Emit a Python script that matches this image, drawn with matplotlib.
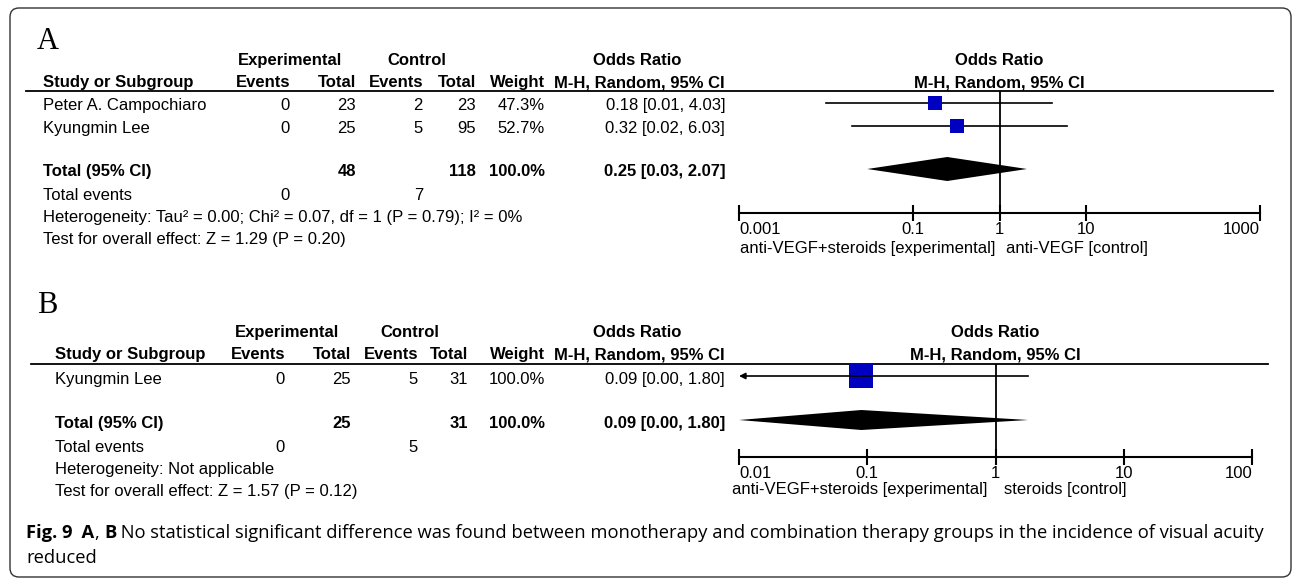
import numpy as np
import matplotlib.pyplot as plt
from matplotlib.patches import FancyBboxPatch

plt.rcParams['font.family'] = ['Liberation Sans', 'DejaVu Sans']

# ---- panel A: anti-VEGF+steroids vs anti-VEGF
a_study = ["Peter A. Campochiaro", "Kyungmin Lee"]
a_exp_events = [0, 0]
a_exp_total = [23, 25]
a_ctl_events = [2, 5]
a_ctl_total = [23, 95]
a_weight = [47.3, 52.7]
a_or = [0.18, 0.32]
a_lo = [0.01, 0.02]
a_hi = [4.03, 6.03]
a_pooled = [0.25, 0.03, 2.07]
a_tot_n = [48, 118]
a_tot_events = [0, 7]
a_het = "Heterogeneity: Tau\u00b2 = 0.00; Chi\u00b2 = 0.07, df = 1 (P = 0.79); I\u00b2 = 0%"
a_test = "Test for overall effect: Z = 1.29 (P = 0.20)"
a_ticks = [0.001, 0.1, 1, 10, 1000]
a_tick_labels = ["0.001", "0.1", "1", "10", "1000"]
a_favours = ["anti-VEGF+steroids [experimental]", "anti-VEGF [control]"]

# ---- panel B: anti-VEGF+steroids vs steroids
b_study = ["Kyungmin Lee"]
b_exp_events = [0]
b_exp_total = [25]
b_ctl_events = [5]
b_ctl_total = [31]
b_weight = [100.0]
b_or = [0.09]
b_lo = [0.00]
b_hi = [1.80]
b_pooled = [0.09, 0.00, 1.80]
b_tot_n = [25, 31]
b_tot_events = [0, 5]
b_het = "Heterogeneity: Not applicable"
b_test = "Test for overall effect: Z = 1.57 (P = 0.12)"
b_ticks = [0.01, 0.1, 1, 10, 100]
b_tick_labels = ["0.01", "0.1", "1", "10", "100"]
b_favours = ["anti-VEGF+steroids [experimental]", "steroids [control]"]

caption = ("No statistical significant difference was found between monotherapy and "
           "combination therapy groups in the incidence of visual acuity")
caption2 = "reduced"

W, H = 1292, 578
fig = plt.figure(figsize=(W / 100, H / 100), dpi=100)
ax = fig.add_axes([0, 0, 1, 1])
ax.set_xlim(0, W)
ax.set_ylim(H, 0)
ax.axis('off')

ax.add_patch(FancyBboxPatch((10, 8), 1281, 569, boxstyle="round,pad=0,rounding_size=9",
                            fc='none', ec='#333333', lw=1.0))

FS = 12
BLUE = '#0000c0'
VA = 'center_baseline'


def txt(x, y, s, ha='left', bold=False):
    # small lift so the baseline sits like the RevMan rows
    ax.text(x, y - 2, s, fontsize=FS, ha=ha, va=VA, weight='bold' if bold else 'normal')


def draw_panel(letter, L, study, ev_e, tot_e, ev_c, tot_c, weight, orr, lo, hi,
               pooled, tot_n, tot_ev, het, test, ticks, tick_labels, favours):
    ax.text(37, L['letter'], letter, family=['Liberation Serif', 'DejaVu Serif'],
            fontsize=22, va=VA, ha='left')
    cx = L['cols']
    # headers
    txt(L['exp_c'], L['h1'], "Experimental", 'center', True)
    txt(L['ctl_c'], L['h1'], "Control", 'center', True)
    txt(637, L['h1'], "Odds Ratio", 'center', True)
    txt(L['fc'], L['h1'], "Odds Ratio", 'center', True)
    txt(L['sx'], L['h2'], "Study or Subgroup", 'left', True)
    for x, s in zip(cx, ["Events", "Total", "Events", "Total", "Weight", "M-H, Random, 95% CI"]):
        txt(x, L['h2'], s, 'right', True)
    txt(L['fc'], L['h2'], "M-H, Random, 95% CI", 'center', True)
    ax.plot([L['lx0'], L['lx1']], [L['line'], L['line']], color='black', lw=1.3)

    # study rows
    for i, name in enumerate(study):
        y = L['rows'][i]
        vals = [str(ev_e[i]), str(tot_e[i]), str(ev_c[i]), str(tot_c[i]),
                f"{weight[i]:.1f}%", f"{orr[i]:.2f} [{lo[i]:.2f}, {hi[i]:.2f}]"]
        txt(L['sx'], y, name)
        for x, s in zip(cx, vals):
            txt(x, y, s, 'right')

    y = L['total']
    txt(L['sx'], y, "Total (95% CI)", 'left', True)
    tvals = [str(tot_n[0]), str(tot_n[1]), f"{sum(weight):.1f}%",
             f"{pooled[0]:.2f} [{pooled[1]:.2f}, {pooled[2]:.2f}]"]
    for x, s in zip([cx[1], cx[3], cx[4], cx[5]], tvals):
        txt(x, y, s, 'right', True)
    y = L['events']
    txt(L['sx'], y, "Total events")
    txt(cx[0], y, str(tot_ev[0]), 'right')
    txt(cx[2], y, str(tot_ev[1]), 'right')
    txt(L['sx'], L['het'], het)
    txt(L['sx'], L['test'], test)

    # forest plot
    fx0, fx1 = L['fx']
    fa = fig.add_axes([fx0 / W, 1 - L['axis'] / H, (fx1 - fx0) / W, (L['axis'] - L['line']) / H])
    fa.set_xscale('log')
    fa.set_xlim(ticks[0], ticks[-1])
    fa.set_ylim(L['axis'], L['line'])
    fa.patch.set_visible(False)
    for s in ['top', 'left', 'right']:
        fa.spines[s].set_visible(False)
    fa.spines['bottom'].set_linewidth(1.5)
    fa.set_yticks([])
    fa.set_xticks(ticks, tick_labels)
    fa.minorticks_off()
    fa.tick_params(axis='x', direction='inout', length=11, width=1.5, pad=1, labelsize=FS)
    lbls = fa.get_xticklabels()
    lbls[0].set_ha('left')
    lbls[-1].set_ha('right')
    fa.axvline(1, color='black', lw=1.3)

    xmin = ticks[0]
    for i in range(len(study)):
        y = L['rows'][i] - L['dy']
        if lo[i] < xmin:
            fa.annotate('', xy=(xmin, y), xytext=(hi[i], y),
                        arrowprops=dict(arrowstyle='-|>', lw=1.2, color='black', mutation_scale=9,
                                        shrinkA=0, shrinkB=0))
        else:
            fa.plot([lo[i], hi[i]], [y, y], color='black', lw=1.2)
        fa.plot(orr[i], y, marker='s', ms=L['ms'] * 0.72, color=BLUE, mec=BLUE, mew=0)

    y = L['total'] - L['dy']
    p_lo = max(pooled[1], xmin)
    fa.fill([p_lo, pooled[0], pooled[2], pooled[0]],
            [y, y - L['dh'], y, y + L['dh']], color='black', lw=0)

    txt(L['x1'] - L['fl'], L['fav'], favours[0], 'right')
    txt(L['x1'] + L['fr'], L['fav'], favours[1], 'left')


LA = dict(letter=38, h1=61, h2=83, line=91, rows=[106, 129], total=172, events=196,
          het=218, test=240, axis=213, fav=249, sx=43, lx0=26, lx1=1273,
          cols=[290, 356, 423, 476, 545, 725], exp_c=290, ctl_c=417, fc=999,
          fx=(739, 1260), x1=999, fl=4, fr=7, dy=3, dh=12, ms=14)
LB = dict(letter=302, h1=333, h2=355, line=364, rows=[380], total=424, events=448,
          het=470, test=492, axis=457, fav=490, sx=55, lx0=31, lx1=1268,
          cols=[285, 351, 418, 468, 545, 725], exp_c=287, ctl_c=410, fc=995,
          fx=(739, 1252), x1=996, fl=9, fr=8, dy=4, dh=10, ms=24)

draw_panel("A", LA, a_study, a_exp_events, a_exp_total, a_ctl_events, a_ctl_total, a_weight,
           a_or, a_lo, a_hi, a_pooled, a_tot_n, a_tot_events, a_het, a_test,
           a_ticks, a_tick_labels, a_favours)
draw_panel("B", LB, b_study, b_exp_events, b_exp_total, b_ctl_events, b_ctl_total, b_weight,
           b_or, b_lo, b_hi, b_pooled, b_tot_n, b_tot_events, b_het, b_test,
           b_ticks, b_tick_labels, b_favours)

# caption with bold parts
CF = ['Open Sans', 'DejaVu Sans']
CS = 13.2
t = ax.text(26, 533, "Fig. 9", family=CF, fontsize=CS, weight='bold', va='center')
parts = [("  A", 'bold'), (", ", 'normal'), ("B", 'bold'), (" " + caption, 'normal')]
prev = t
for s, w in parts:
    prev = ax.annotate(s, xy=(1, 0), xycoords=prev, va='bottom', ha='left',
                       family=CF, fontsize=CS, weight=w)
ax.text(26, 558, caption2, family=CF, fontsize=CS, va='center')

fig.savefig('out.png', dpi=100)
